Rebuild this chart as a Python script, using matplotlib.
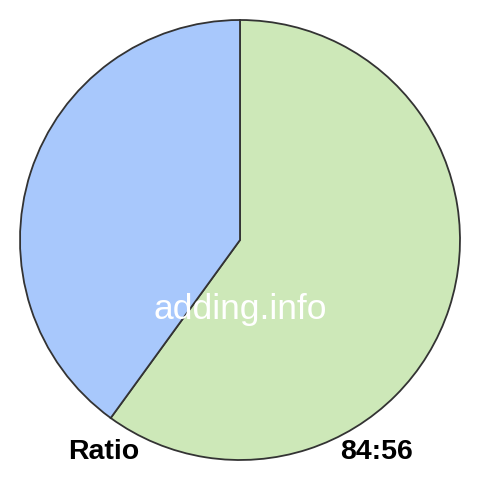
import matplotlib
matplotlib.use("Agg")
import matplotlib.pyplot as plt

labels = ["84", "56"]
values = [84, 56]
colors = ["#cde8b8", "#a8c8fc"]

fig = plt.figure(figsize=(4.8, 4.8), dpi=100)
ax = fig.add_axes([0, 0, 1, 1])
ax.pie(values, colors=colors, startangle=90, counterclock=False, radius=220,
       center=(0, 0), wedgeprops=dict(edgecolor="#333333", linewidth=1.3))
ax.set_xlim(-240, 240)
ax.set_ylim(-240, 240)
ax.set_aspect("equal")
ax.axis("off")

ax.text(0, -69, "adding.info", color="white", fontsize=25.5, ha="center", va="center",
        family=["Liberation Sans", "DejaVu Sans"])
ax.text(-172, -212, "Ratio", color="black", fontsize=20.5, fontweight="bold", ha="left", va="center",
        family=["Liberation Sans", "DejaVu Sans"])
ax.text(173, -212, f"{values[0]}:{values[1]}", color="black", fontsize=20.5, fontweight="bold", ha="right", va="center",
        family=["Liberation Sans", "DejaVu Sans"])

fig.savefig("out.png", dpi=100)
